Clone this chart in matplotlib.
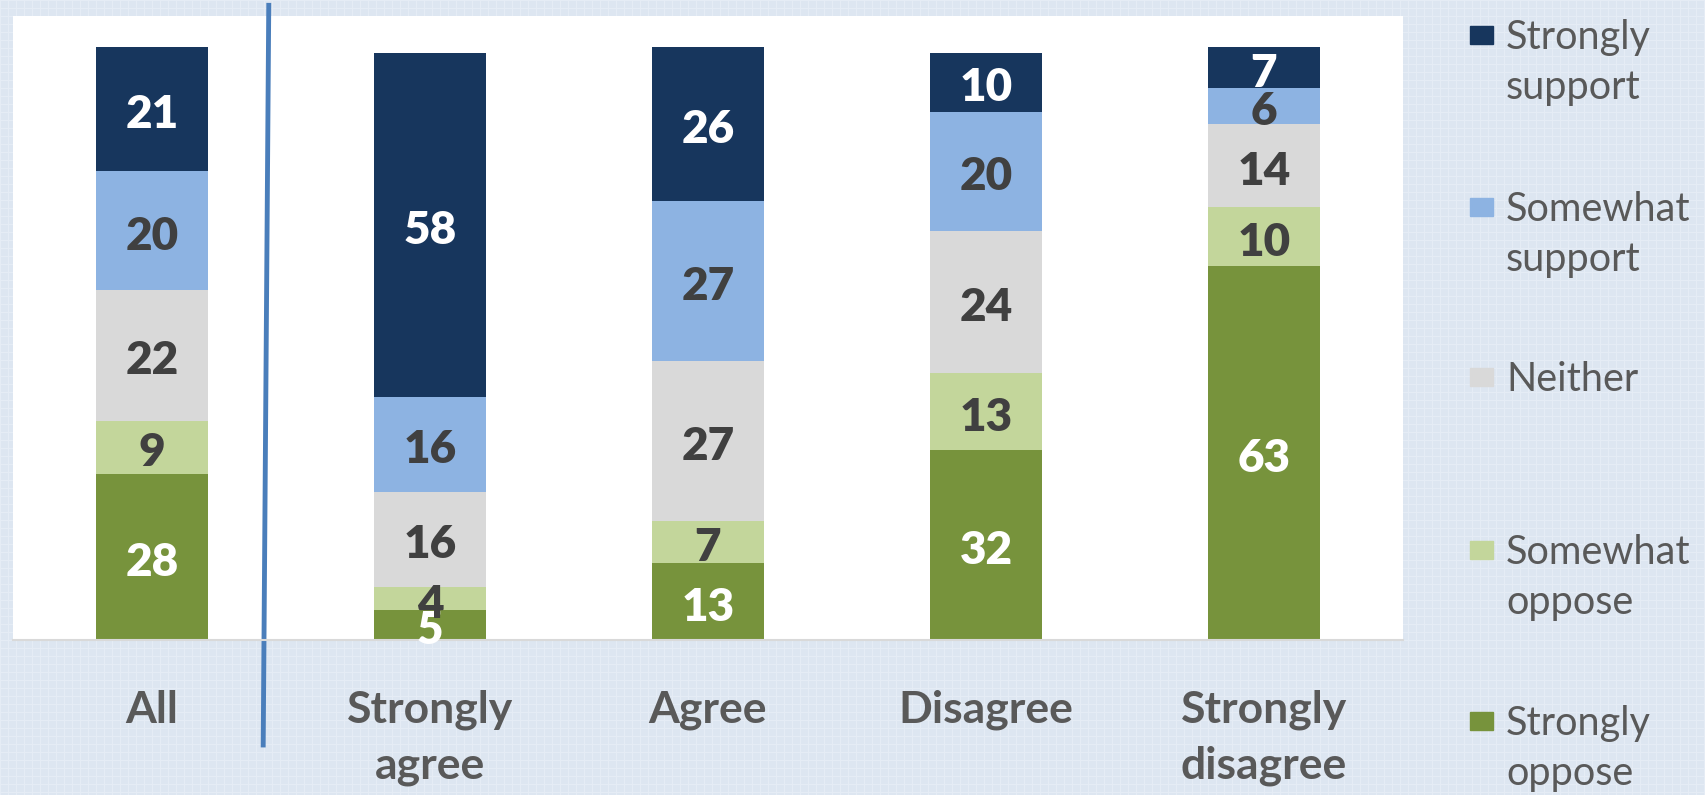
import matplotlib.pyplot as plt
from matplotlib.patches import Rectangle
import numpy as np

categories = ["All", "Strongly\nagree", "Agree", "Disagree", "Strongly\ndisagree"]
series_names = ["Strongly\nsupport", "Somewhat\nsupport", "Neither", "Somewhat\noppose", "Strongly\noppose"]

# bottom to top stacking order
strongly_oppose = [28, 5, 13, 32, 63]
somewhat_oppose = [9, 4, 7, 13, 10]
neither = [22, 16, 27, 24, 14]
somewhat_support = [20, 16, 27, 20, 6]
strongly_support = [21, 58, 26, 10, 7]

stack = [strongly_oppose, somewhat_oppose, neither, somewhat_support, strongly_support]
stack_colors = ["#77933C", "#C3D69B", "#D9D9D9", "#8DB3E2", "#17365D"]
text_colors = ["white", "#404040", "#404040", "#404040", "white"]
legend_colors = ["#17365D", "#8DB3E2", "#D9D9D9", "#C3D69B", "#77933C"]

bg = "#DDE6F1"
W, H = 1705, 795
fig = plt.figure(figsize=(17.05, 7.95), dpi=100, facecolor=bg)

# faint squared texture of the slide background
tex = np.ones((H, W, 3)) * np.array([0xDD, 0xE6, 0xF1]) / 255
tex[::8, :, :] = np.array([0xE5, 0xEC, 0xF5]) / 255
tex[:, ::8, :] = np.array([0xE5, 0xEC, 0xF5]) / 255
fig.figimage(tex, 0, 0, zorder=-10)

ax = fig.add_axes([13 / W, 1 - 640 / H, (1403 - 13) / W, (640 - 16) / H])
ax.set_facecolor("white")

x = np.arange(len(categories))
bottom = np.zeros(len(categories))
for vals, col, tcol in zip(stack, stack_colors, text_colors):
    vals = np.array(vals)
    ax.bar(x, vals, bottom=bottom, width=0.4, color=col, edgecolor="none")
    for xi, b, v in zip(x, bottom, vals):
        ax.annotate(str(v), (xi, b + v / 2), xytext=(0, -4), textcoords="offset points",
                    ha="center", va="center", color=tcol,
                    fontsize=33, fontweight="heavy", family="Lato")
    bottom += vals

ax.set_xlim(-0.5, 4.5)
ax.set_ylim(0, 105.2)
ax.set_yticks([])
ax.set_xticks(x)
ax.set_xticklabels(categories, fontsize=32, fontweight="bold", color="#595959",
                   family="Lato", linespacing=1.45)
ax.tick_params(axis="x", length=0, pad=36)
for s in ["top", "left", "right"]:
    ax.spines[s].set_visible(False)
ax.spines["bottom"].set_color("#D9D9D9")
ax.spines["bottom"].set_linewidth(1.5)

# separator between "All" and the groups
ax.plot([0.42, 0.40], [107, -17.7], color="#4A7EBB", lw=3.5, clip_on=False)

# legend drawn by hand so the marker sits on the first line
leg_y = [35, 207, 377, 550, 721]
for yy, name, col in zip(leg_y, series_names, legend_colors):
    fig.add_artist(Rectangle((1470 / W, 1 - (yy + 9) / H), 23 / W, 18 / H,
                             transform=fig.transFigure, color=col))
    for i, line in enumerate(name.split("\n")):
        fig.text(1506 / W, 1 - (yy + 14 + i * 50) / H, line, ha="left", va="baseline",
                 fontsize=28.5, color="#595959", family="Lato")

fig.savefig("out.png", dpi=100, facecolor=bg)
